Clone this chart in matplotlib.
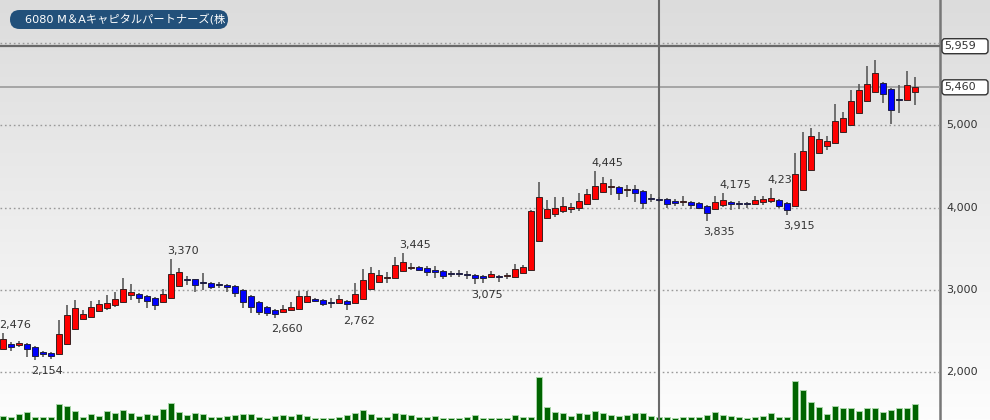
import numpy as np
import matplotlib
matplotlib.use('Agg')
import matplotlib.pyplot as plt
from matplotlib.patches import FancyBboxPatch, Rectangle
from matplotlib.colors import LinearSegmentedColormap
from matplotlib.lines import Line2D
from matplotlib.transforms import Bbox, TransformedBbox

# ---------------- data ----------------
title = "6080 M＆Aキャピタルパートナーズ(株)"

opens = [2284, 2340, 2328, 2340, 2308, 2251, 2235, 2219, 2340, 2522,
         2652, 2676, 2741, 2781, 2814, 2854, 2935, 2955, 2927, 2899,
         2858, 2899, 3049, 3130, 3130, 3093, 3089, 3069, 3057, 3045,
         3000, 2927, 2858, 2798, 2757, 2733, 2753, 2773, 2850, 2891,
         2879, 2854, 2846, 2870, 2846, 2895, 3008, 3101, 3142, 3150,
         3231, 3271, 3275, 3263, 3247, 3235, 3206, 3206, 3198, 3186,
         3166, 3154, 3174, 3166, 3162, 3210, 3243, 3599, 3870, 3923,
         3955, 3988, 3992, 4040, 4101, 4186, 4247, 4251, 4215, 4223,
         4202, 4121, 4109, 4105, 4077, 4065, 4073, 4053, 4024, 3980,
         4028, 4065, 4053, 4049, 4045, 4065, 4081, 4093, 4057, 4020,
         4219, 4453, 4664, 4753, 4785, 4915, 5000, 5154, 5292, 5405,
         5514, 5441, 5316, 5312, 5401]
highs = [2476, 2365, 2385, 2352, 2320, 2263, 2251, 2636, 2822, 2879,
         2757, 2870, 2879, 2939, 2972, 3150, 3069, 2968, 2939, 2911,
         3016, 3370, 3263, 3174, 3138, 3210, 3101, 3101, 3069, 3057,
         3012, 2939, 2870, 2806, 2765, 2818, 2854, 2988, 2988, 2907,
         2891, 2907, 2935, 2883, 3081, 3251, 3275, 3243, 3223, 3405,
         3445, 3324, 3287, 3295, 3287, 3247, 3235, 3247, 3235, 3198,
         3178, 3227, 3186, 3202, 3316, 3304, 3972, 4308, 4093, 4126,
         4126, 4053, 4182, 4223, 4445, 4368, 4344, 4263, 4275, 4275,
         4215, 4162, 4134, 4117, 4101, 4146, 4085, 4065, 4036, 4142,
         4175, 4081, 4081, 4069, 4146, 4142, 4235, 4105, 4069, 4664,
         4923, 4972, 4923, 4866, 5263, 5158, 5433, 5498, 5721, 5790,
         5526, 5453, 5494, 5652, 5591]
lows = [2280, 2259, 2304, 2183, 2154, 2183, 2160, 2211, 2332, 2514,
        2644, 2668, 2733, 2757, 2798, 2846, 2879, 2838, 2777, 2757,
        2846, 2891, 3040, 3061, 2972, 3000, 3008, 3020, 2980, 2911,
        2777, 2717, 2692, 2684, 2660, 2725, 2745, 2765, 2842, 2854,
        2806, 2781, 2838, 2762, 2838, 2887, 3000, 3081, 3089, 3142,
        3223, 3243, 3235, 3170, 3142, 3130, 3162, 3154, 3130, 3075,
        3089, 3146, 3101, 3130, 3154, 3202, 3235, 3591, 3858, 3891,
        3939, 3939, 3960, 4032, 4093, 4178, 4154, 4093, 4134, 4073,
        3984, 4073, 4073, 3992, 4020, 4020, 3980, 3980, 3835, 3972,
        4012, 3972, 3980, 4000, 4032, 4032, 4061, 4000, 3915, 4012,
        4211, 4445, 4656, 4704, 4777, 4907, 4992, 5146, 5283, 5397,
        5275, 5012, 5154, 5304, 5251]
closes = [2405, 2312, 2357, 2280, 2199, 2223, 2199, 2462, 2701, 2781,
          2705, 2798, 2830, 2846, 2891, 3008, 2980, 2899, 2870, 2814,
          2947, 3194, 3219, 3122, 3061, 3085, 3032, 3061, 3032, 2960,
          2858, 2790, 2733, 2717, 2705, 2773, 2798, 2927, 2927, 2866,
          2834, 2846, 2887, 2826, 2947, 3121, 3202, 3182, 3158, 3308,
          3336, 3283, 3247, 3223, 3219, 3174, 3198, 3198, 3182, 3142,
          3146, 3194, 3158, 3170, 3255, 3275, 3960, 4134, 3980, 3992,
          4020, 4004, 4081, 4166, 4267, 4300, 4263, 4174, 4231, 4174,
          4053, 4109, 4097, 4045, 4061, 4081, 4032, 4000, 3939, 4073,
          4093, 4040, 4045, 4040, 4089, 4101, 4117, 4020, 3976, 4413,
          4684, 4870, 4838, 4814, 5045, 5085, 5296, 5433, 5506, 5628,
          5373, 5190, 5304, 5490, 5460]
volumes = [40, 27, 57, 77, 33, 27, 27, 160, 143, 90,
           33, 57, 40, 87, 70, 97, 70, 40, 60, 47,
           107, 167, 77, 50, 70, 60, 33, 27, 43, 50,
           60, 63, 33, 23, 43, 53, 40, 60, 40, 20,
           20, 23, 30, 47, 70, 97, 60, 30, 33, 70,
           57, 47, 30, 30, 37, 23, 17, 17, 35, 47,
           23, 20, 20, 20, 50, 30, 30, 427, 133, 77,
           67, 43, 70, 63, 90, 67, 50, 43, 47, 73,
           73, 40, 27, 27, 20, 30, 27, 30, 53, 77,
           50, 37, 27, 23, 30, 43, 67, 33, 30, 393,
           300, 180, 127, 60, 140, 120, 123, 90, 117, 117,
           80, 100, 123, 117, 157]

price_ticks = [2000, 3000, 4000, 5000]
tick_labels = ["2,000", "3,000", "4,000", "5,000"]
grid_levels = [2000, 3000, 4000, 5000, 6000]
ref_high = 5959
last_price = 5460
cursor_index = 82
# (candle index, kind, text)
marks = [(0, 'high', '2,476'), (4, 'low', '2,154'), (21, 'high', '3,370'),
         (34, 'low', '2,660'), (43, 'low', '2,762'), (50, 'high', '3,445'),
         (59, 'low', '3,075'), (74, 'high', '4,445'), (88, 'low', '3,835'),
         (90, 'high', '4,175'), (96, 'high', '4,235'), (98, 'low', '3,915')]

# ---------------- figure ----------------
W, H = 990, 420
fig = plt.figure(figsize=(W / 100, H / 100), dpi=100)

bg = fig.add_axes([0, 0, 1, 1], zorder=0)
grad = np.linspace(0, 1, 256).reshape(-1, 1)
cmap = LinearSegmentedColormap.from_list('g', ['#dcdcdc', '#fdfdfd'])
bg.imshow(grad, aspect='auto', cmap=cmap, extent=[0, 1, 0, 1], origin='upper')
bg.set_axis_off()

PW = 940
pos = [0, 0, PW / W, 1]
n = len(opens)
x = np.arange(n)
xlim = (-0.375, -0.375 + PW / 8.0)

vax = fig.add_axes(pos, zorder=1)
vax.patch.set_alpha(0)
vax.set_xlim(*xlim)
vax.set_ylim(0, 4200)
vax.bar(x, volumes, width=0.75, color='#006400', edgecolor='#a9d6a9', linewidth=0.7)
vax.set_axis_off()

ax = fig.add_axes(pos, zorder=2)
ax.patch.set_alpha(0)
ax.set_xlim(*xlim)
ax.set_ylim(1421, 6520)
ax.set_axis_off()

for g in grid_levels:
    ax.axhline(g, color='#9a9a9a', lw=1.0, ls=(0, (1.2, 2.0)), zorder=1)
ax.axhline(ref_high, color='#6a6a6a', lw=1.6, zorder=1)
ax.axhline(last_price, color='#a0a0a0', lw=1.3, zorder=1)
ax.axvline(cursor_index, color='#6a6a6a', lw=1.5, zorder=1.5)

for i in range(n):
    o, h, l, c = opens[i], highs[i], lows[i], closes[i]
    ax.plot([i, i], [l, h], color='#5a5a5a', lw=1.2, zorder=3, solid_capstyle='butt')
    up = c >= o
    bottom = min(o, c)
    height = max(abs(c - o), 12)
    ax.add_patch(Rectangle((i - 0.375, bottom), 0.75, height,
                           facecolor='#ff0000' if up else '#0000ff',
                           edgecolor='#3a2020' if up else '#202040',
                           lw=0.7, zorder=4))

for idx, kind, txt in marks:
    if kind == 'high':
        ax.annotate(txt, (idx, highs[idx]), xytext=(-4, 3), textcoords='offset pixels',
                    ha='left', va='bottom', fontsize=8, color='#333333', zorder=2)
    else:
        ax.annotate(txt, (idx, lows[idx]), xytext=(-4, -6), textcoords='offset pixels',
                    ha='left', va='top', fontsize=8, color='#333333', zorder=2)

# right axis
fig.add_artist(Line2D([PW / W, PW / W], [0, 1], transform=fig.transFigure,
                      color='#777777', lw=1.8))
for p, t in zip(price_ticks, tick_labels):
    ax.text(946 / PW, p, t, transform=ax.get_yaxis_transform(), ha='left', va='center',
            fontsize=8, color='#333333', clip_on=False)

def px_y(price):
    return ax.transData.transform((0, price))[1]

for val, txt in [(ref_high, '5,959'), (last_price, '5,460')]:
    yc = px_y(val)
    box = FancyBboxPatch((942 / 100, (yc - 7.5) / 100), 46 / 100, 15 / 100,
                         boxstyle='round,pad=0,rounding_size=0.03',
                         transform=fig.dpi_scale_trans, facecolor='white',
                         edgecolor='#333333', lw=1.0, zorder=5)
    fig.add_artist(box)
    fig.text(944 / W, yc / H, txt, ha='left', va='center', fontsize=8,
             color='#333333', zorder=6)

# title pill
pill = FancyBboxPatch((10 / 100, 391 / 100), 218 / 100, 19 / 100,
                      boxstyle='round,pad=0,rounding_size=0.095',
                      transform=fig.dpi_scale_trans, facecolor='#22507a',
                      edgecolor='none', zorder=5)
fig.add_artist(pill)
tt = fig.text(25 / W, 400.5 / H, title, ha='left', va='center', fontsize=8.1,
              color='white', family=['DejaVu Sans', 'Noto Sans CJK JP'], zorder=6)
tt.set_clip_on(True)
tt.set_clip_box(TransformedBbox(Bbox.from_extents(0.10, 3.91, 2.26, 4.10),
                                fig.dpi_scale_trans))

fig.savefig('out.png', dpi=100)
